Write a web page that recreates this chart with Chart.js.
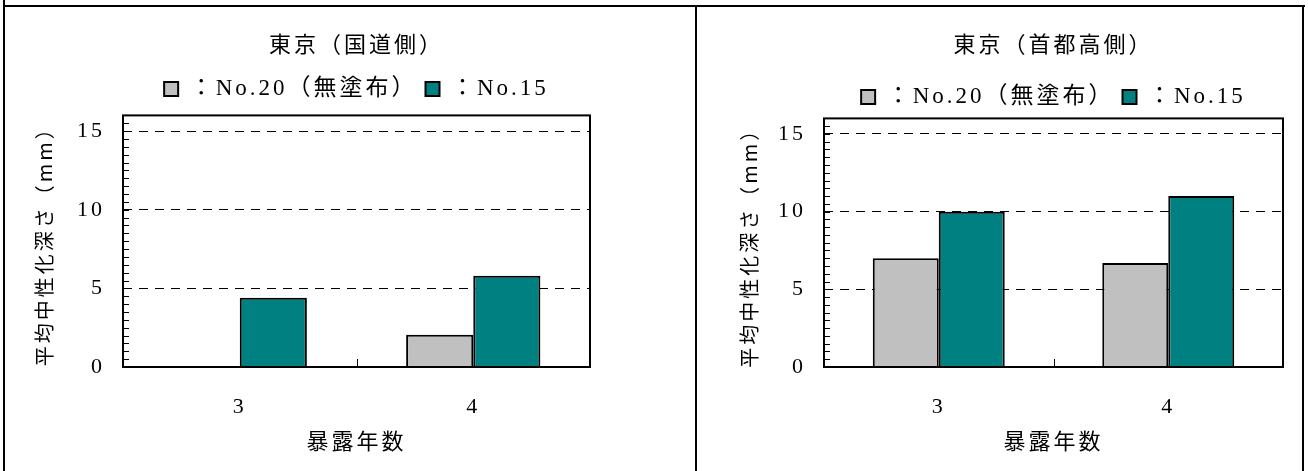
<!DOCTYPE html>
<html>
<head>
<meta charset="utf-8">
<script src="https://cdn.jsdelivr.net/npm/chart.js@4.4.0/dist/chart.umd.min.js"></script>
<style>
body { margin: 0; background: #fff; width: 1308px; height: 471px; position: relative; overflow: hidden; }
.line { position: absolute; background: #000; }
.cell { position: absolute; top: 6px; height: 465px; }
</style>
</head>
<body>
<div class="line" style="left:3px;top:0;width:2px;height:471px"></div>
<div class="line" style="left:3px;top:5px;width:1302px;height:2px"></div>
<div class="line" style="left:695px;top:5px;width:2px;height:466px"></div>
<div class="line" style="left:1302px;top:5px;width:2px;height:466px"></div>
<div class="cell" style="left:5px;width:690px"><canvas id="c1"></canvas></div>
<div class="cell" style="left:698px;width:604px"><canvas id="c2"></canvas></div>
<script>
var years = ['3', '4'];
var seriesNames = ['：No.20（無塗布）', '：No.15'];
var kokudoNo20 = [null, 2.05];
var kokudoNo15 = [4.4, 5.8];
var shutoNo20 = [7.0, 6.7];
var shutoNo15 = [10.0, 11.0];
var yTicks = [0, 5, 10, 15];
var yMax = 16;

var serif = '"Liberation Serif", "Noto Sans CJK JP", serif';
var sans = '"Noto Sans CJK JP", sans-serif';
Chart.defaults.color = '#000';

// wide, mincho-like spacing for every text on the canvas
var spacing = {
    id: 'spacing',
    beforeLayout: function(chart) { chart.ctx.letterSpacing = '3px'; },
    beforeDraw: function(chart) { chart.ctx.letterSpacing = '3px'; }
};

// plot frame, inner minor ticks on y and category boundary ticks on x
var frameTicks = {
    id: 'frameTicks',
    afterDatasetsDraw: function(chart) {
        var ctx = chart.ctx, a = chart.chartArea;
        var x = chart.scales.x, y = chart.scales.y;
        ctx.save();
        ctx.strokeStyle = '#000';
        ctx.lineWidth = 1;
        ctx.beginPath();
        for (var v = 0.5; v < yMax; v += 0.5) {
            var py = Math.round(y.getPixelForValue(v)) + 0.5;
            ctx.moveTo(a.left, py);
            ctx.lineTo(a.left + 6, py);
        }
        for (var i = 0; i < years.length - 1; i++) {
            var px = Math.round((x.getPixelForValue(i) + x.getPixelForValue(i + 1)) / 2) + 0.5;
            ctx.moveTo(px, a.bottom);
            ctx.lineTo(px, a.bottom - 8);
        }
        ctx.stroke();
        ctx.lineWidth = 2;
        ctx.strokeRect(a.left, a.top, a.right - a.left, a.bottom - a.top);
        ctx.restore();
    }
};

function makeChart(id, title, no20, no15, lay) {
    new Chart(document.getElementById(id), {
        type: 'bar',
        data: {
            labels: years,
            datasets: [
                { label: seriesNames[0], data: no20, backgroundColor: '#c0c0c0', borderColor: '#000', borderWidth: 2 },
                { label: seriesNames[1], data: no15, backgroundColor: '#008080', borderColor: '#000', borderWidth: 2 }
            ]
        },
        options: {
            responsive: true,
            maintainAspectRatio: false,
            animation: false,
            layout: { padding: { left: 0, right: lay.right, top: 0, bottom: 0 } },
            datasets: { bar: { categoryPercentage: 0.575, barPercentage: 1, borderSkipped: 'start' } },
            plugins: {
                title: {
                    display: true, text: title, fullSize: false,
                    font: { family: sans, size: 22, weight: 'normal', lineHeight: 1.2 },
                    padding: { top: 24, bottom: lay.titleGap }
                },
                subtitle: {
                    display: lay.spacer > 0, text: '', weight: 500, fullSize: false,
                    font: { size: lay.spacer || 1, lineHeight: 1 }, padding: 0
                },
                legend: {
                    fullSize: false,
                    labels: {
                        boxWidth: 14, boxHeight: 14, padding: 8,
                        font: { family: serif, size: 23 },
                        generateLabels: function(chart) {
                            return chart.data.datasets.map(function(ds, i) {
                                return { text: ds.label, fillStyle: ds.backgroundColor, strokeStyle: '#000', lineWidth: 2, datasetIndex: i };
                            });
                        }
                    }
                },
                tooltip: { enabled: false }
            },
            scales: {
                x: {
                    grid: { display: false },
                    border: { display: false },
                    ticks: { font: { family: serif, size: 22 }, padding: 19 },
                    title: { display: true, text: '暴露年数', font: { family: sans, size: 22 }, padding: { top: 0, bottom: 17 } },
                    afterFit: function(s) { s.height = 104; }
                },
                y: {
                    min: 0, max: yMax,
                    afterBuildTicks: function(s) { s.ticks = yTicks.map(function(v) { return { value: v }; }); },
                    grid: {
                        drawTicks: false,
                        color: function(c) { return c.tick && c.tick.value === 0 ? 'rgba(0,0,0,0)' : '#000'; },
                        lineWidth: 1
                    },
                    border: { display: false, dash: [9, 7] },
                    ticks: { font: { family: serif, size: 22 }, padding: 18 },
                    title: { display: true, text: '平均中性化深さ（mm）', font: { family: sans, size: 20 }, padding: { top: lay.yTitle, bottom: 0 } },
                    afterFit: function(s) { s.width = lay.yWidth; }
                }
            }
        },
        plugins: [spacing, frameTicks]
    });
}

makeChart('c1', '東京（国道側）', kokudoNo20, kokudoNo15, { right: 105, titleGap: 13, spacer: 5, yWidth: 118, yTitle: 27 });
makeChart('c2', '東京（首都高側）', shutoNo20, shutoNo15, { right: 19, titleGap: 21, spacer: 0, yWidth: 126, yTitle: 39 });
</script>
</body>
</html>
